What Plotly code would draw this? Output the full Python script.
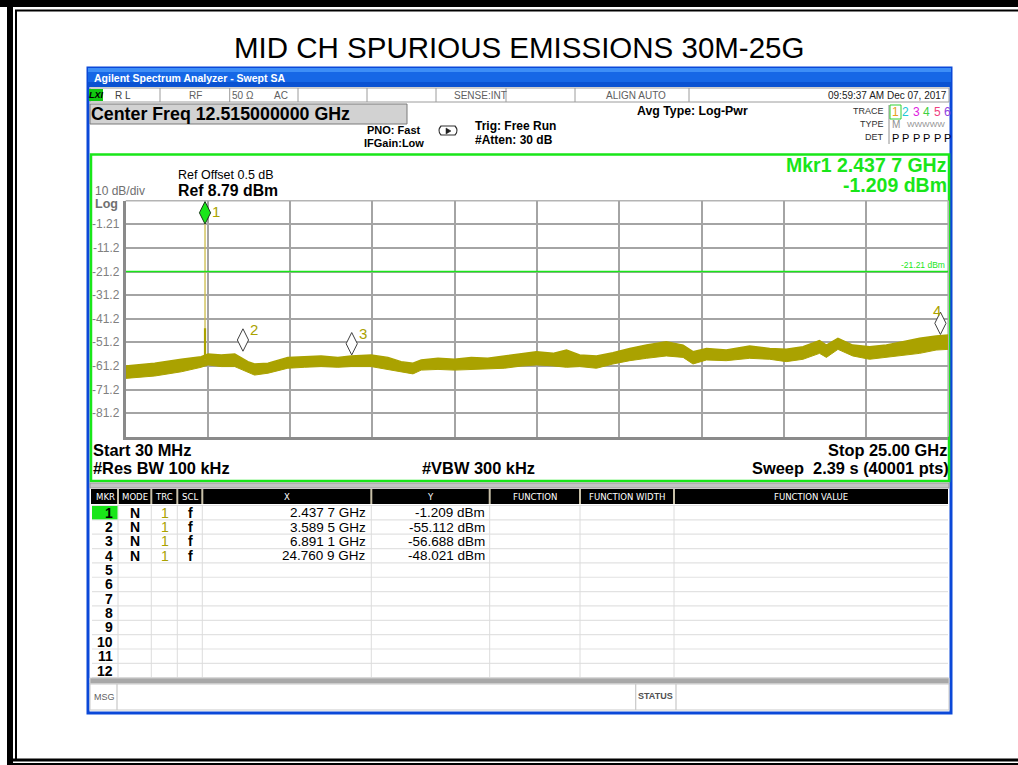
import plotly.graph_objects as go

W, H = 1018, 765

# ---------------- data ----------------
start_ghz = 0.03
stop_ghz = 25.0
ref_level = 8.79
db_per_div = 10
n_div = 10
display_line = -21.21

trace_freq = [0.03, 0.91, 1.72, 2.32, 2.53, 2.93, 3.34, 3.74, 3.94, 4.35,
              4.95, 5.46, 5.96, 6.47, 6.87, 7.48, 7.99, 8.39, 8.75, 9.0,
              9.51, 10.01, 10.52, 11.02, 11.53, 12.03, 12.5, 13.0, 13.41, 13.81,
              14.32, 14.82, 15.33, 15.84, 16.44, 16.95, 17.25, 17.66, 18.26, 18.97,
              19.58, 20.08, 20.59, 21.09, 21.3, 21.65, 22.1, 22.61, 23.12, 23.62,
              24.13, 24.63, 25.0]
trace_upper = [-61.3, -60.1, -58.4, -57.3, -56.2, -56.6, -56.2, -59.4, -60.4, -60.1,
               -57.6, -57.3, -57.0, -57.6, -57.0, -56.6, -57.6, -59.4, -60.1, -58.7,
               -58.0, -58.4, -57.6, -58.0, -57.0, -56.2, -55.2, -55.9, -54.5, -56.6,
               -57.0, -55.6, -53.8, -52.4, -51.0, -52.4, -55.2, -53.8, -54.5, -52.8,
               -53.8, -54.2, -53.1, -50.5, -52.4, -49.5, -52.4, -53.1, -52.4, -51.0,
               -49.5, -48.5, -48.1]
trace_lower = [-66.5, -65.5, -63.7, -61.8, -60.8, -61.5, -61.5, -63.7, -65.1, -64.3,
               -62.2, -61.8, -61.5, -61.8, -61.5, -61.5, -62.7, -63.7, -64.6, -63.0,
               -62.7, -63.0, -62.7, -62.7, -62.2, -61.3, -60.8, -61.2, -61.8, -61.5,
               -62.2, -60.4, -59.0, -58.0, -57.0, -57.6, -60.4, -58.7, -59.0, -58.0,
               -58.4, -59.4, -58.4, -55.9, -57.6, -54.2, -57.0, -58.4, -57.6, -56.6,
               -55.9, -54.5, -54.2]

carrier_freq = 2.4377
carrier_peak = -1.209
carrier_skirt_top = -45.3
carrier_skirt_bottom = -58.5

mkr_num = [1, 2, 3, 4]
mkr_mode = ["N", "N", "N", "N"]
mkr_trc = ["1", "1", "1", "1"]
mkr_scl = ["f", "f", "f", "f"]
mkr_x = [2.4377, 3.5895, 6.8911, 24.7609]
mkr_y = [-1.209, -55.112, -56.688, -48.021]
table_rows = 12

# ---------------- layout helpers ----------------
FONT = "Liberation Sans, Arial, sans-serif"
OLIVE = "#aaa200"
GREEN = "#19e619"

PL, PR, PT, PB = 125.7, 948.3, 200.7, 436.7   # plot area in px


def X(px):
    return px / W


def Y(py):
    return 1 - py / H


shapes = []
annotations = []


def rect(x0, y0, x1, y1, fill=None, line=None, lw=1, layer="below"):
    shapes.append(dict(type="rect", xref="paper", yref="paper",
                       x0=X(x0), x1=X(x1), y0=Y(y1), y1=Y(y0),
                       fillcolor=fill if fill else "rgba(0,0,0,0)",
                       line=dict(color=line if line else "rgba(0,0,0,0)", width=lw if line else 0),
                       layer=layer))


def hline(x0, x1, y, color, lw=1, layer="below"):
    shapes.append(dict(type="line", xref="paper", yref="paper",
                       x0=X(x0), x1=X(x1), y0=Y(y), y1=Y(y),
                       line=dict(color=color, width=lw), layer=layer))


def vline(x, y0, y1, color, lw=1, layer="below"):
    shapes.append(dict(type="line", xref="paper", yref="paper",
                       x0=X(x), x1=X(x), y0=Y(y0), y1=Y(y1),
                       line=dict(color=color, width=lw), layer=layer))


def text(t, x, y, size=12, color="black", bold=False, anchor="left", family=FONT):
    if bold:
        t = "<b>" + t + "</b>"
    annotations.append(dict(text=t, xref="paper", yref="paper", x=X(x), y=Y(y),
                            xanchor=anchor, yanchor="middle", showarrow=False,
                            font=dict(size=size, color=color, family=family)))


# ---------------- outer slide frame ----------------
rect(0, 0, W, 7, fill="black")
hline(15, W, 10.5, "black", 2)
rect(7, 0, 13, 765, fill="black")
vline(16, 10, 759, "black", 2)
rect(7, 758.5, W, 761.5, fill="black")
rect(13, 763, W, 765, fill="black")

text("MID CH SPURIOUS EMISSIONS 30M-25G", 519, 47, 29.5, "black", anchor="center")

# ---------------- analyzer window ----------------
rect(88, 68, 951, 713, fill="white", line="#0b48d8", lw=3)
rect(88, 68, 951, 72, fill="#3d8ef7")
rect(88, 72, 951, 82, fill="#1667e6")
rect(88, 82, 951, 87, fill="#0a52d2")
text("Agilent Spectrum Analyzer - Swept SA", 92, 78, 10.5, "white", bold=True)

# status row
rect(90, 88, 949, 102, fill="white", line="#9c9c9c", lw=1)
for xd in [160, 229.7, 298, 367, 436, 506, 575, 689]:
    vline(xd, 88, 102, "#9c9c9c", 1)
rect(89, 89, 103, 101, fill="#10c810")
text("<i>LXI</i>", 96, 95, 9, "black", bold=True, anchor="center")
text("R L", 113, 95, 10, "#404040")
text("RF", 195, 95, 10, "#606060", anchor="center")
text("50 Ω", 243, 95, 10, "#606060", anchor="center")
text("AC", 281, 95, 10, "#606060", anchor="center")
text("SENSE:INT", 480, 95, 10, "#606060", anchor="center")
text("ALIGN AUTO", 636, 95, 10, "#606060", anchor="center")
text("09:59:37 AM Dec 07, 2017", 949, 95, 10, "#202020", anchor="right")

# center freq box
rect(90, 104, 407, 124, fill="#d2d2d2", line="#7a7a7a", lw=1)
text("Center Freq 12.515000000 GHz", 89, 114, 17.8, "black", bold=True)

text("PNO: Fast", 394, 130, 11, "black", bold=True, anchor="center")
text("IFGain:Low", 394, 143, 11, "black", bold=True, anchor="center")
shapes.append(dict(type="path", xref="paper", yref="paper",
                   path=f"M {X(441)},{Y(126)} L {X(455)},{Y(126)} Q {X(459)},{Y(130.5)} {X(455)},{Y(135)} "
                        f"L {X(441)},{Y(135)} Q {X(437)},{Y(130.5)} {X(441)},{Y(126)} Z",
                   line=dict(color="#303030", width=1.2), layer="above"))
shapes.append(dict(type="path", xref="paper", yref="paper",
                   path=f"M {X(446)},{Y(128)} L {X(451)},{Y(131)} L {X(446)},{Y(134)} Z",
                   fillcolor="#202020", line=dict(color="#202020", width=0.5), layer="above"))
text("Trig: Free Run", 473, 126, 12, "black", bold=True)
text("#Atten: 30 dB", 473, 140, 12, "black", bold=True)
text("Avg Type: Log-Pwr", 635, 111, 12.3, "black", bold=True)

# trace info block
text("TRACE", 886, 111, 9, "#303030", anchor="right")
text("TYPE", 886, 124, 9, "#303030", anchor="right")
text("DET", 886, 137, 9, "#303030", anchor="right")
vline(889, 105, 144, "#909090", 1)
rect(890, 105, 901, 119, line="#30d030", lw=1)
trace_cols = ["#e8a020", "#20c8d8", "#e020e0", "#40d040", "#f04080", "#9040e0"]
for i, c in enumerate(trace_cols):
    text(str(i + 1), 895.5 + i * 10.4, 112, 12, c, anchor="center")
text("M", 895.5, 125, 10, "#909090", anchor="center")
text("WWWWW", 926, 125, 8, "#909090", anchor="center")
for i in range(6):
    text("P", 895.5 + i * 10.4, 138, 11, "black", anchor="center")

# ---------------- graph panel ----------------
rect(91, 154.5, 949, 481, fill="white", line=GREEN, lw=2.5)

xs0 = f"{mkr_x[0]:.4f}"
text("Mkr1 " + xs0[:-1] + " " + xs0[-1] + " GHz", 949, 165, 19.5, GREEN, bold=True, anchor="right")
text(f"{mkr_y[0]:.3f} dBm", 949, 185, 19.5, GREEN, bold=True, anchor="right")
text("Ref Offset 0.5 dB", 176, 175, 12.5, "black")
text(f"Ref {ref_level:.2f} dBm", 176, 190, 15.8, "black", bold=True)
text(f"{db_per_div} dB/div", 93, 191, 12, "#707070")
text("Log", 93, 204, 12.5, "#707070", bold=True)

text(f"Start {start_ghz*1000:.0f} MHz", 91, 450, 16.4, "black", bold=True)
text(f"Stop {stop_ghz:.2f} GHz", 949, 450, 16.4, "black", bold=True, anchor="right")
text("#Res BW 100 kHz", 91, 468, 16.4, "black", bold=True)
text("#VBW 300 kHz", 478, 468, 16.4, "black", bold=True, anchor="center")
text("Sweep  2.39 s (40001 pts)", 951, 468, 16.4, "black", bold=True, anchor="right")

# plot frame
shapes.append(dict(type="line", xref="paper", yref="paper", x0=X(PL), x1=X(PR), y0=Y(PT), y1=Y(PT),
                   line=dict(color="#b4b4b4", width=1.5), layer="below"))
shapes.append(dict(type="line", xref="paper", yref="paper", x0=X(PR), x1=X(PR), y0=Y(PT), y1=Y(PB),
                   line=dict(color="#b4b4b4", width=1.5), layer="below"))

# ---------------- marker table ----------------
rect(90, 483, 949, 488, fill="#c4c4c4", line="#9a9a9a", lw=1)
rect(91, 489, 948, 504, fill="black")
cols = [92, 118, 151.3, 177.3, 202.3, 371.3, 489.7, 580, 674, 948]
heads = ["MKR", "MODE", "TRC", "SCL", "X", "Y", "FUNCTION", "FUNCTION WIDTH", "FUNCTION VALUE"]
for xd in cols[1:-1]:
    vline(xd, 489, 504, "#c8c0a8", 2)
for i, hname in enumerate(heads):
    text(hname, (cols[i] + cols[i + 1]) / 2, 496.5, 9.5, "white", anchor="center",
         family="DejaVu Sans Condensed, Liberation Sans Narrow, Liberation Sans")
row_h = 14.35
row_top = 505.5
for r in range(table_rows + 1):
    hline(92, 948, row_top + r * row_h, "#e2e2e2", 1.2)
for xd in cols[1:-1]:
    vline(xd, 505, 678, "#dcdcdc", 1)
rect(92, row_top + 0.5, 117.5, row_top + row_h - 0.5, fill="#19e619")
for r in range(table_rows):
    yc = row_top + (r + 0.5) * row_h
    text(str(r + 1), 115, yc, 14, "black", bold=True, anchor="right")
for r in range(len(mkr_num)):
    yc = row_top + (r + 0.5) * row_h
    xs = f"{mkr_x[r]:.4f}"
    text(mkr_mode[r], 135, yc, 14, "black", bold=True, anchor="center")
    text(mkr_trc[r], 164.5, yc, 14, OLIVE, anchor="center")
    text(mkr_scl[r], 190, yc, 14, "black", bold=True, anchor="center")
    text(xs[:-1] + " " + xs[-1] + " GHz", 368, yc, 13.5, "black", anchor="right")
    text(f"{mkr_y[r]:.3f} dBm", 487, yc, 13.5, "black", anchor="right")

rect(90, 678, 949, 683.5, fill="#a8a8a8", line="#d0d0d0", lw=1)
rect(90, 684, 949, 710, fill="white", line="#c8c8c8", lw=1)
vline(117, 684, 710, "#c8c8c8", 1.2)
vline(635.7, 684, 710, "#c8c8c8", 1.2)
vline(676, 684, 710, "#c8c8c8", 1.2)
text("MSG", 91.5, 697, 9, "#606060")
text("STATUS", 655.8, 696, 9, "#505050", bold=True, anchor="center")

# ---------------- traces ----------------
y_bottom = ref_level - db_per_div * n_div
px_per_db = (PB - PT) / (db_per_div * n_div)

fig = go.Figure()
fig.add_trace(go.Scatter(x=trace_freq, y=trace_lower, mode="lines",
                         line=dict(color=OLIVE, width=1), hoverinfo="skip", showlegend=False))
fig.add_trace(go.Scatter(x=trace_freq, y=trace_upper, mode="lines", fill="tonexty",
                         fillcolor=OLIVE, line=dict(color=OLIVE, width=1.5),
                         hoverinfo="skip", showlegend=False))
# carrier
fig.add_trace(go.Scatter(x=[carrier_freq, carrier_freq], y=[carrier_skirt_bottom, carrier_peak],
                         mode="lines", line=dict(color="#cbbb48", width=1.3),
                         hoverinfo="skip", showlegend=False))
fig.add_trace(go.Scatter(x=[carrier_freq, carrier_freq], y=[carrier_skirt_bottom, carrier_skirt_top],
                         mode="lines", line=dict(color=OLIVE, width=2.2),
                         hoverinfo="skip", showlegend=False))
# display line
fig.add_trace(go.Scatter(x=[start_ghz, stop_ghz], y=[display_line, display_line], mode="lines",
                         line=dict(color=GREEN, width=1.5), hoverinfo="skip", showlegend=False))
text(f"{display_line:.2f} dBm", 947, 264.5, 8.5, GREEN, anchor="right")

# markers (diamond sits above the marked point)
diamond_half_px = 11.5
mk_center = [v + diamond_half_px / px_per_db for v in mkr_y]
fig.add_trace(go.Scatter(x=mkr_x[1:], y=mk_center[1:], mode="markers",
                         marker=dict(symbol="diamond-tall", size=16, color="white",
                                     line=dict(color="#404040", width=1)),
                         cliponaxis=False, hoverinfo="skip", showlegend=False))
fig.add_trace(go.Scatter(x=mkr_x[:1], y=mk_center[:1], mode="markers",
                         marker=dict(symbol="diamond-tall", size=16, color="#19e619",
                                     line=dict(color="#1a3a1a", width=1)),
                         cliponaxis=False, hoverinfo="skip", showlegend=False))
label_offsets = [(11, -1), (11, -11), (11, -10), (-3, -13)]
for i in range(len(mkr_num)):
    dx, dy = label_offsets[i]
    annotations.append(dict(text=str(mkr_num[i]), x=mkr_x[i], y=mk_center[i], xref="x", yref="y",
                            xshift=dx, yshift=-dy, showarrow=False,
                            font=dict(size=15, color=OLIVE, family=FONT)))

ytick_vals = [ref_level - db_per_div * k for k in range(1, n_div)]
ytick_text = [f"{v:.3g}" for v in ytick_vals]
xgrid_vals = [start_ghz + (stop_ghz - start_ghz) / n_div * k for k in range(1, n_div)]

# y tick labels as annotations, right-aligned just left of the plot area
for v, t in zip(ytick_vals, ytick_text):
    annotations.append(dict(text=t, x=X(122), y=v, xref="paper", yref="y",
                            xanchor="right", yanchor="middle", showarrow=False,
                            font=dict(size=12, color="#808080", family=FONT)))

fig.update_layout(
    width=W, height=H, margin=dict(l=0, r=0, t=0, b=0),
    paper_bgcolor="white", plot_bgcolor="rgba(0,0,0,0)",
    shapes=shapes, annotations=annotations,
    xaxis=dict(domain=[X(PL), X(PR)], range=[start_ghz, stop_ghz], tickvals=xgrid_vals,
               showticklabels=False, ticks="", showgrid=True, gridcolor="#a4a4a4", gridwidth=1.5,
               zeroline=False, showline=True, linecolor="#8a8a8a", linewidth=2.5),
    yaxis=dict(domain=[Y(PB), Y(PT)], range=[y_bottom, ref_level], tickvals=ytick_vals,
               showticklabels=False, ticks="", showgrid=True, gridcolor="#a4a4a4", gridwidth=1.5,
               zeroline=False, showline=True, linecolor="#8a8a8a", linewidth=2.5),
)

fig.write_html("out.html", config={"displayModeBar": False},
               post_script="document.body.style.margin='0px';document.body.style.overflow='hidden';")
